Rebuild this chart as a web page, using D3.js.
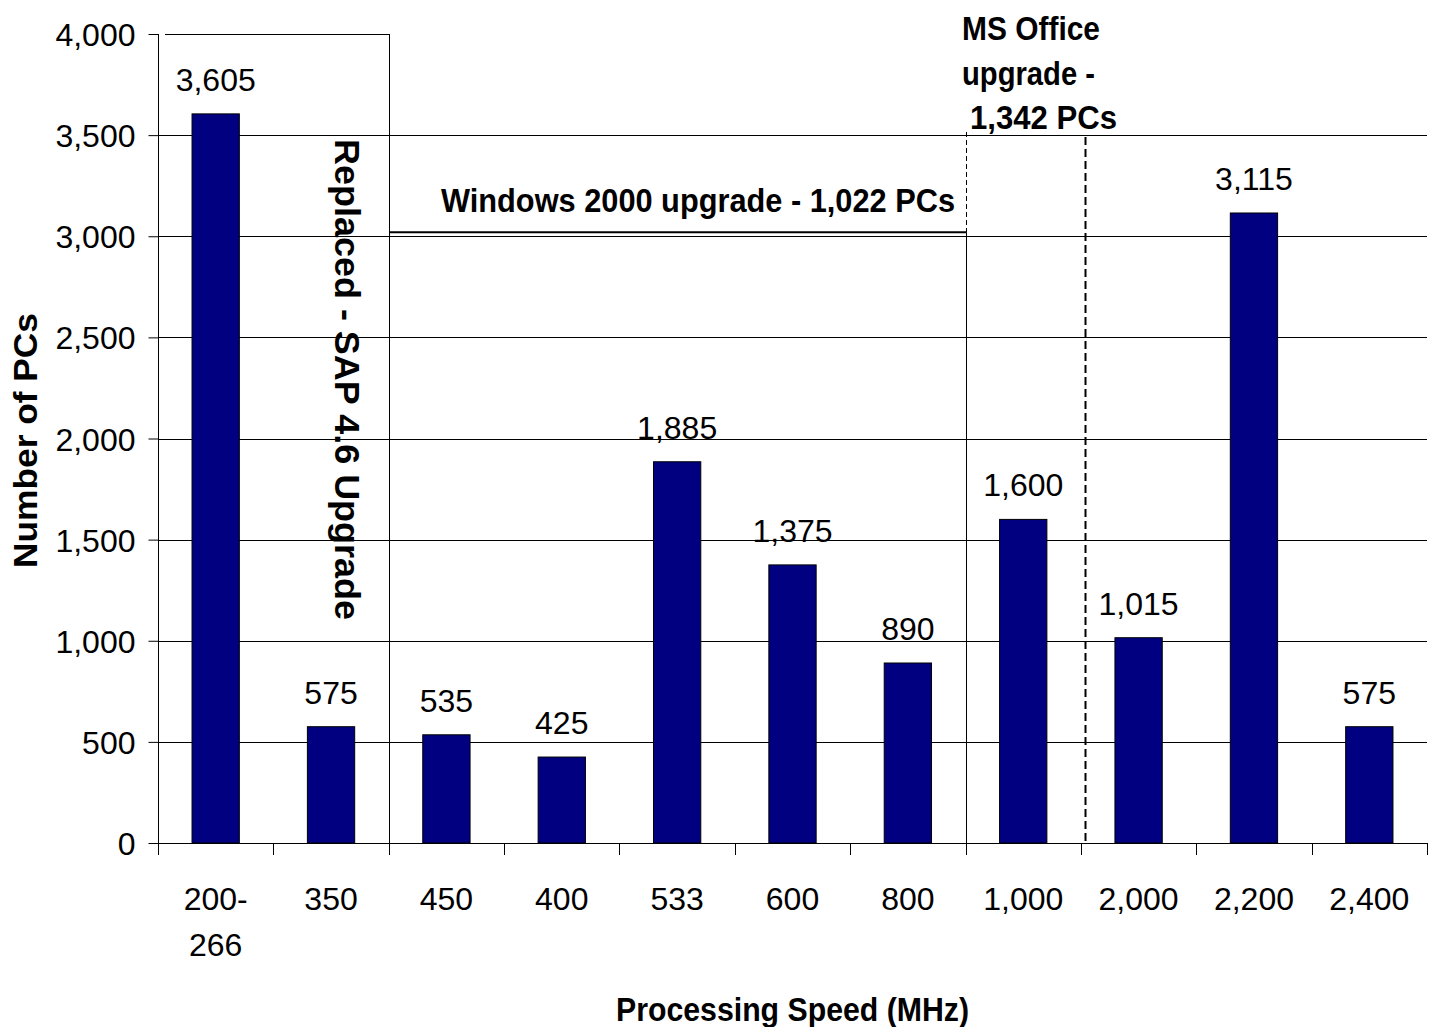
<!DOCTYPE html>
<html>
<head>
<meta charset="utf-8">
<script src="https://cdn.jsdelivr.net/npm/d3@7"></script>
<style>
  html, body { margin: 0; padding: 0; background: #fff; }
  svg { display: block; }
  text { font-family: "Liberation Sans", Arial, sans-serif; fill: #000; }
</style>
</head>
<body>
<svg id="chart" width="1436" height="1027"></svg>
<script>
const categories = ["200-|266", "350", "450", "400", "533", "600", "800", "1,000", "2,000", "2,200", "2,400"];
const values = [3605, 575, 535, 425, 1885, 1375, 890, 1600, 1015, 3115, 575];
const yTicks = [0, 500, 1000, 1500, 2000, 2500, 3000, 3500, 4000];

(function draw() {
const svg = d3.select("#chart");
const pLeft = 158, pRight = 1427, pTop = 34, pBottom = 843;

const x = d3.scaleBand().domain(categories).range([pLeft, pRight])
  .paddingInner(0.59).paddingOuter(0.295);
const step = x.step();
const y = d3.scaleLinear().domain([0, 4000]).range([pBottom, pTop]);
const fmt = d3.format(",");
const px = v => Math.round(v) + 0.5;
const edge = i => px(pLeft + i * step);

// gridlines
svg.append("g").selectAll("line")
  .data(yTicks.filter(t => t > 0 && t < 4000))
  .join("line")
  .attr("x1", pLeft).attr("x2", pRight)
  .attr("y1", d => px(y(d))).attr("y2", d => px(y(d)))
  .attr("stroke", "#000").attr("stroke-width", 1);

// bars
svg.append("g").selectAll("rect")
  .data(values)
  .join("rect")
  .attr("x", (d, i) => x(categories[i]))
  .attr("width", x.bandwidth())
  .attr("y", d => y(d))
  .attr("height", d => y(0) - y(d))
  .attr("fill", "#000080")
  .attr("stroke", "#000")
  .attr("stroke-width", 1);

// value labels
svg.append("g").selectAll("text")
  .data(values)
  .join("text")
  .attr("x", (d, i) => x(categories[i]) + x.bandwidth() / 2)
  .attr("y", d => y(d) - 23)
  .attr("text-anchor", "middle")
  .attr("font-size", 32)
  .text(d => fmt(d));

// y axis
const yAxis = svg.append("g")
  .attr("transform", `translate(${px(pLeft)},0)`)
  .call(d3.axisLeft(y).tickValues(yTicks).tickSize(10).tickPadding(13).tickFormat(fmt));
yAxis.select(".domain").remove();
yAxis.selectAll(".tick line").attr("stroke", "#000");
yAxis.selectAll(".tick text")
  .attr("font-size", 32).attr("dy", "0.36em")
  .style("font-family", '"Liberation Sans", Arial, sans-serif');
svg.append("line")
  .attr("x1", px(pLeft)).attr("x2", px(pLeft))
  .attr("y1", pTop).attr("y2", pBottom + 12)
  .attr("stroke", "#000");

// x axis line and boundary ticks
svg.append("line")
  .attr("x1", pLeft).attr("x2", pRight)
  .attr("y1", px(pBottom)).attr("y2", px(pBottom))
  .attr("stroke", "#000");
svg.append("g").selectAll("line")
  .data(d3.range(categories.length + 1))
  .join("line")
  .attr("x1", i => edge(i)).attr("x2", i => edge(i))
  .attr("y1", pBottom).attr("y2", pBottom + 12)
  .attr("stroke", "#000");

// x labels
const xl = svg.append("g").selectAll("text")
  .data(categories)
  .join("text")
  .attr("text-anchor", "middle")
  .attr("font-size", 32)
  .attr("x", d => x(d) + x.bandwidth() / 2)
  .attr("y", 910);
xl.each(function(d) {
  const parts = d.split("|");
  const t = d3.select(this);
  parts.forEach((p, k) => {
    t.append("tspan")
      .attr("x", x(d) + x.bandwidth() / 2)
      .attr("dy", k === 0 ? 0 : 46)
      .text(p);
  });
});

// axis titles
svg.append("text")
  .attr("transform", `translate(37,${(pTop + pBottom) / 2 + 2}) rotate(-90)`)
  .attr("text-anchor", "middle")
  .attr("font-size", 34).attr("font-weight", "bold")
  .attr("textLength", 255).attr("lengthAdjust", "spacingAndGlyphs")
  .text("Number of PCs");
svg.append("text")
  .attr("x", (pLeft + pRight) / 2).attr("y", 1021)
  .attr("text-anchor", "middle")
  .attr("font-size", 34).attr("font-weight", "bold")
  .attr("textLength", 353).attr("lengthAdjust", "spacingAndGlyphs")
  .text("Processing Speed (MHz)");

// annotations: SAP box
svg.append("line")
  .attr("x1", 165).attr("x2", edge(2))
  .attr("y1", px(y(4000))).attr("y2", px(y(4000)))
  .attr("stroke", "#000");
svg.append("line")
  .attr("x1", edge(2)).attr("x2", edge(2))
  .attr("y1", y(4000)).attr("y2", pBottom)
  .attr("stroke", "#000");
svg.append("text")
  .attr("transform", `translate(335,139) rotate(90)`)
  .attr("text-anchor", "start")
  .attr("font-size", 35).attr("font-weight", "bold")
  .attr("textLength", 481).attr("lengthAdjust", "spacingAndGlyphs")
  .text("Replaced - SAP 4.6 Upgrade");

// Windows 2000 bracket
svg.append("line")
  .attr("x1", edge(2)).attr("x2", edge(7))
  .attr("y1", y(3000) - 4).attr("y2", y(3000) - 4)
  .attr("stroke", "#000").attr("stroke-width", 2);
svg.append("line")
  .attr("x1", edge(7)).attr("x2", edge(7))
  .attr("y1", y(3000) - 4).attr("y2", pBottom)
  .attr("stroke", "#000");
svg.append("line")
  .attr("x1", edge(7)).attr("x2", edge(7))
  .attr("y1", 132).attr("y2", y(3000) - 4)
  .attr("stroke", "#000").attr("stroke-dasharray", "5,3");
svg.append("text")
  .attr("x", 698).attr("y", 212)
  .attr("text-anchor", "middle")
  .attr("font-size", 33).attr("font-weight", "bold")
  .attr("textLength", 514).attr("lengthAdjust", "spacingAndGlyphs")
  .text("Windows 2000 upgrade - 1,022 PCs");

// MS Office
svg.append("line")
  .attr("x1", edge(8) + 4).attr("x2", edge(8) + 4)
  .attr("y1", 137).attr("y2", pBottom)
  .attr("stroke", "#000").attr("stroke-width", 2).attr("stroke-dasharray", "8,4");
const ms = [["MS Office", 962, 40, 138], ["upgrade -", 962, 85, 133], ["1,342 PCs", 970, 129, 147]];
svg.append("g").selectAll("text")
  .data(ms)
  .join("text")
  .attr("x", d => d[1]).attr("y", d => d[2])
  .attr("font-size", 33).attr("font-weight", "bold")
  .attr("textLength", d => d[3]).attr("lengthAdjust", "spacingAndGlyphs")
  .text(d => d[0]);
})();
</script>
</body>
</html>
